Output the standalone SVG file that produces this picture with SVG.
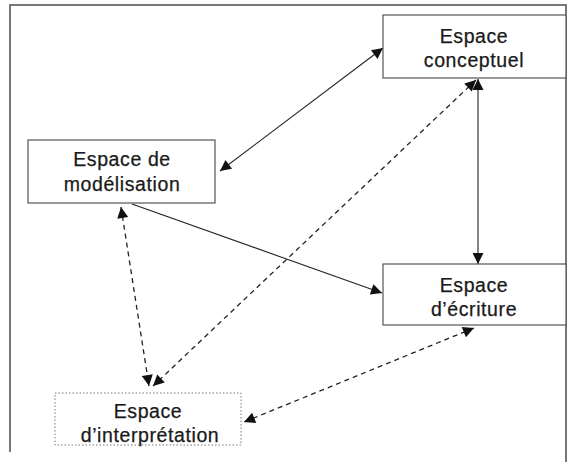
<svg xmlns="http://www.w3.org/2000/svg" width="570" height="462" viewBox="0 0 570 462">
<style>
.box{fill:#fff;stroke:#555;stroke-width:1.2}
.dot{fill:#fff;stroke:#777;stroke-width:1;stroke-dasharray:1.5 2}
.t{font-family:"Liberation Sans",Arial,sans-serif;font-size:19.5px;letter-spacing:0.6px;fill:#1a1a1a;stroke:#1a1a1a;stroke-width:0.25;text-anchor:middle}
.s{fill:none;stroke:#222;stroke-width:1.1}
.d{fill:none;stroke:#222;stroke-width:1.3;stroke-dasharray:5 4}
</style>
<defs>
<marker id="a" viewBox="0 0 10 10" refX="10" refY="5" markerWidth="12" markerHeight="11" markerUnits="userSpaceOnUse" orient="auto-start-reverse">
<path d="M0,0 L10,5 L0,10 z" fill="#111"/>
</marker>
</defs>
<rect width="570" height="462" fill="#fff"/>
<path d="M10,452 V5 H566 V462" fill="none" stroke="#777" stroke-width="2"/>
<g id="connectors">
<line class="s" x1="220" y1="171" x2="383" y2="48" marker-start="url(#a)" marker-end="url(#a)"/>
<line class="s" x1="478" y1="79" x2="478" y2="264" marker-start="url(#a)" marker-end="url(#a)"/>
<line class="s" x1="132" y1="204" x2="382" y2="293" marker-end="url(#a)"/>
<line class="d" x1="121" y1="207" x2="149" y2="386" marker-start="url(#a)" marker-end="url(#a)"/>
<line class="d" x1="476" y1="80" x2="153" y2="386" marker-start="url(#a)" marker-end="url(#a)"/>
<line class="d" x1="474" y1="328" x2="244" y2="422" marker-start="url(#a)" marker-end="url(#a)"/>
</g>
<g id="conceptuel">
<rect class="box" x="383" y="15" width="183" height="63"/>
<text class="t" x="474" y="43">Espace</text>
<text class="t" x="474" y="67">conceptuel</text>
</g>
<g id="modelisation">
<rect class="box" x="28" y="140" width="187" height="63"/>
<text class="t" x="122" y="166">Espace de</text>
<text class="t" x="122" y="191">modélisation</text>
</g>
<g id="ecriture">
<rect class="box" x="383" y="264" width="183" height="61"/>
<text class="t" x="474" y="292">Espace</text>
<text class="t" x="474" y="316">d’écriture</text>
</g>
<g id="interpretation">
<rect class="dot" x="55" y="393" width="186" height="52"/>
<text class="t" x="148" y="418">Espace</text>
<text class="t" x="150" y="442">d’interprétation</text>
</g>
</svg>
